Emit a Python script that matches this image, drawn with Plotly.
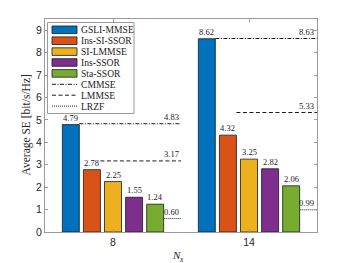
import plotly.graph_objects as go

# ---------------- data ----------------
categories = ["8", "14"]
bar_names = ["GSLI-MMSE", "Ins-SI-SSOR", "SI-LMMSE", "Ins-SSOR", "Sta-SSOR"]
gsli_mmse = [4.79, 8.62]
ins_si_ssor = [2.78, 4.32]
si_lmmse = [2.25, 3.25]
ins_ssor = [1.55, 2.82]
sta_ssor = [1.24, 2.06]
bar_values = [gsli_mmse, ins_si_ssor, si_lmmse, ins_ssor, sta_ssor]

line_names = ["CMMSE", "LMMSE", "LRZF"]
cmmse = [4.83, 8.63]
lmmse = [3.17, 5.33]
lrzf = [0.60, 0.99]
line_values = [cmmse, lmmse, lrzf]
y_ticks = [0, 1, 2, 3, 4, 5, 6, 7, 8, 9]

# ---------------- style ----------------
bar_colors = ["#0072BD", "#D95319", "#EDB120", "#7E2F8E", "#77AC30"]
line_dashes = ["4px,1.5px,1px,1.5px", "4px,2.5px", "1px,1px"]
line_start_after_bar = [0, 1, 4]
SERIF = "Liberation Serif"
SANS = "Liberation Sans"

W, H = 350, 263
L, R, T, B = 45, 33, 19, 31
pw, ph = W - L - R, H - T - B

n = len(bar_names)
group_width = 0.775
slot = group_width / n
bar_w = slot * 0.806
xs = [i + 1 for i in range(len(categories))]

fig = go.Figure()
for k in range(n):
    fig.add_trace(go.Bar(
        x=xs, y=bar_values[k], name=bar_names[k],
        marker=dict(color=bar_colors[k], line=dict(color="#1a1a1a", width=0.8)),
        showlegend=False,
    ))

annotations = []
# bar value labels
for k in range(n):
    for g, x0 in enumerate(xs):
        xc = x0 + (k - (n - 1) / 2) * slot
        annotations.append(dict(
            x=xc, y=bar_values[k][g], xref="x", yref="y", text=f"{bar_values[k][g]:.2f}",
            showarrow=False, yanchor="bottom", xanchor="center", yshift=0,
            font=dict(family=SERIF, size=8.5, color="#1a1a1a")))

# reference lines
for j in range(len(line_names)):
    for g, x0 in enumerate(xs):
        start = x0 + (line_start_after_bar[j] - (n - 1) / 2) * slot + bar_w / 2
        end = x0 + 0.5
        fig.add_trace(go.Scatter(
            x=[start, end], y=[line_values[j][g]] * 2, mode="lines",
            line=dict(color="#1a1a1a", width=1, dash=line_dashes[j]),
            showlegend=False, cliponaxis=True, hoverinfo="skip"))
        annotations.append(dict(
            x=min(end, 2.49), y=line_values[j][g], xref="x", yref="y",
            text=f"{line_values[j][g]:.2f}", showarrow=False,
            xanchor="right", yanchor="bottom", yshift=0,
            font=dict(family=SERIF, size=8.5, color="#1a1a1a")))

# ---------------- manual legend ----------------
def px(xp):
    return (xp - L) / pw

def py(yp):
    return (H - B - yp) / ph

shapes = []
shapes.append(dict(type="rect", xref="paper", yref="paper",
                   x0=px(47.5), x1=px(134), y0=py(113.5), y1=py(22.5),
                   line=dict(color="#9a9a9a", width=1), fillcolor="white", layer="above"))
row0, step = 29.8, 10.9
legend_items = [(nm, "bar", k) for k, nm in enumerate(bar_names)] + \
               [(nm, "line", j) for j, nm in enumerate(line_names)]
for r, (nm, kind, idx) in enumerate(legend_items):
    yc = row0 + r * step
    if kind == "bar":
        shapes.append(dict(type="rect", xref="paper", yref="paper",
                           x0=px(52), x1=px(77), y0=py(yc + 3.8), y1=py(yc - 3.8),
                           fillcolor=bar_colors[idx], line=dict(color="#1a1a1a", width=0.8),
                           layer="above"))
    else:
        shapes.append(dict(type="line", xref="paper", yref="paper",
                           x0=px(52), x1=px(77), y0=py(yc), y1=py(yc),
                           line=dict(color="#1a1a1a", width=1, dash=line_dashes[idx]),
                           layer="above"))
    annotations.append(dict(x=px(78.5), y=py(yc), xref="paper", yref="paper", text=nm,
                            showarrow=False, xanchor="left", yanchor="middle",
                            font=dict(family=SERIF, size=9.6, color="#1a1a1a")))

# axis titles
annotations.append(dict(x=0, y=0.5, xref="paper", yref="paper", xshift=-19,
                        text="Average SE [bit/s/Hz]", textangle=-90, showarrow=False,
                        xanchor="center", yanchor="middle",
                        font=dict(family=SERIF, size=11.5, color="#262626")))
annotations.append(dict(x=px(183), y=py(255.5), xref="paper", yref="paper",
                        text="<i>N</i>", showarrow=False,
                        xanchor="right", yanchor="middle",
                        font=dict(family=SERIF, size=11, color="#262626")))
annotations.append(dict(x=px(177), y=py(259), xref="paper", yref="paper",
                        text="<i>x</i>", showarrow=False,
                        xanchor="left", yanchor="middle",
                        font=dict(family=SERIF, size=7.5, color="#262626")))

axis_color = "#9a9a9a"
fig.update_layout(
    width=W, height=H, margin=dict(l=L, r=R, t=T, b=B, pad=0),
    paper_bgcolor="white", plot_bgcolor="white",
    barmode="group", bargap=1 - group_width, bargroupgap=1 - bar_w / slot,
    annotations=annotations, shapes=shapes, showlegend=False,
    xaxis=dict(range=[0.5, 2.5], tickvals=xs, ticktext=categories,
               showline=True, linecolor=axis_color, linewidth=1, mirror="ticks",
               ticks="inside", ticklen=3, tickcolor=axis_color, showgrid=False,
               zeroline=False, tickfont=dict(family=SANS, size=10.5, color="#262626")),
    yaxis=dict(range=[0, 9.5], tickvals=y_ticks,
               showline=True, linecolor=axis_color, linewidth=1, mirror="ticks",
               ticks="inside", ticklen=3, tickcolor=axis_color, showgrid=False,
               zeroline=False, tickfont=dict(family=SANS, size=10.5, color="#262626")),
)

fig.write_html("out.html", config={"displayModeBar": False},
               post_script="document.body.style.margin='0';document.body.style.padding='0';")
